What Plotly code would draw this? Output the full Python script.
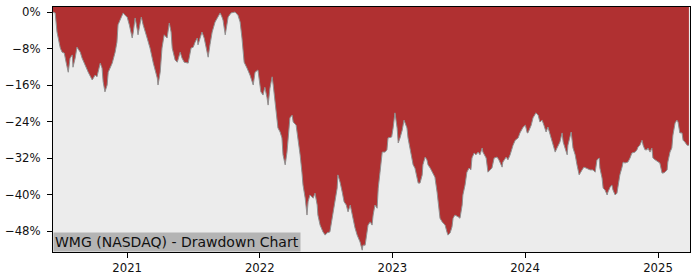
import plotly.graph_objects as go

dates = [
    "2020-06-11", "2020-06-17", "2020-06-22", "2020-07-01", "2020-07-06", "2020-07-12", "2020-07-17", "2020-07-23",
    "2020-07-28", "2020-08-03", "2020-08-05", "2020-08-11", "2020-08-16", "2020-08-25", "2020-08-30", "2020-09-07",
    "2020-09-16", "2020-09-27", "2020-10-05", "2020-10-10", "2020-10-19", "2020-10-24", "2020-10-27", "2020-11-01",
    "2020-11-07", "2020-11-10", "2020-11-21", "2020-11-29", "2020-12-04", "2020-12-07", "2020-12-15", "2020-12-21",
    "2020-12-26", "2021-01-01", "2021-01-07", "2021-01-15", "2021-01-18", "2021-01-23", "2021-01-29", "2021-01-31",
    "2021-02-09", "2021-02-14", "2021-02-25", "2021-03-05", "2021-03-14", "2021-03-25", "2021-03-27", "2021-04-02",
    "2021-04-07", "2021-04-13", "2021-04-21", "2021-04-27", "2021-05-02", "2021-05-05", "2021-05-13", "2021-05-19",
    "2021-05-27", "2021-06-01", "2021-06-07", "2021-06-18", "2021-06-26", "2021-07-02", "2021-07-07", "2021-07-13",
    "2021-07-15", "2021-07-21", "2021-07-26", "2021-08-01", "2021-08-09", "2021-08-12", "2021-08-17", "2021-08-23",
    "2021-08-31", "2021-09-08", "2021-09-14", "2021-09-19", "2021-09-22", "2021-09-28", "2021-10-03", "2021-10-06",
    "2021-10-14", "2021-10-25", "2021-11-02", "2021-11-08", "2021-11-13", "2021-11-19", "2021-11-27", "2021-12-05",
    "2021-12-14", "2021-12-19", "2021-12-27", "2022-01-04", "2022-01-10", "2022-01-15", "2022-01-21", "2022-01-24",
    "2022-01-29", "2022-02-04", "2022-02-07", "2022-02-12", "2022-02-18", "2022-02-20", "2022-02-26", "2022-03-03",
    "2022-03-06", "2022-03-12", "2022-03-17", "2022-03-20", "2022-03-25", "2022-03-31", "2022-04-03", "2022-04-11",
    "2022-04-16", "2022-04-22", "2022-04-27", "2022-04-30", "2022-05-06", "2022-05-11", "2022-05-14", "2022-05-19",
    "2022-05-28", "2022-06-02", "2022-06-08", "2022-06-10", "2022-06-16", "2022-06-24", "2022-06-30", "2022-07-05",
    "2022-07-13", "2022-07-19", "2022-07-24", "2022-08-02", "2022-08-04", "2022-08-10", "2022-08-16", "2022-08-21",
    "2022-08-27", "2022-09-01", "2022-09-07", "2022-09-12", "2022-09-20", "2022-09-26", "2022-10-04", "2022-10-10",
    "2022-10-12", "2022-10-18", "2022-10-23", "2022-10-26", "2022-11-01", "2022-11-06", "2022-11-09", "2022-11-14",
    "2022-11-20", "2022-11-23", "2022-11-28", "2022-12-04", "2022-12-12", "2022-12-17", "2022-12-20", "2022-12-30",
    "2023-01-03", "2023-01-08", "2023-01-14", "2023-01-17", "2023-01-22", "2023-01-28", "2023-02-02", "2023-02-10",
    "2023-02-13", "2023-02-19", "2023-02-24", "2023-02-27", "2023-03-04", "2023-03-10", "2023-03-13", "2023-03-18",
    "2023-03-24", "2023-03-26", "2023-04-01", "2023-04-06", "2023-04-09", "2023-04-15", "2023-04-20", "2023-04-23",
    "2023-04-28", "2023-05-04", "2023-05-07", "2023-05-12", "2023-05-18", "2023-05-26", "2023-05-31", "2023-06-03",
    "2023-06-09", "2023-06-14", "2023-06-17", "2023-06-22", "2023-07-01", "2023-07-06", "2023-07-12", "2023-07-14",
    "2023-07-20", "2023-07-25", "2023-07-31", "2023-08-05", "2023-08-08", "2023-08-14", "2023-08-19", "2023-08-25",
    "2023-08-30", "2023-09-05", "2023-09-07", "2023-09-16", "2023-09-21", "2023-09-27", "2023-10-02", "2023-10-08",
    "2023-10-16", "2023-10-21", "2023-10-30", "2023-11-01", "2023-11-10", "2023-11-15", "2023-11-21", "2023-11-29",
    "2023-12-05", "2023-12-13", "2023-12-18", "2023-12-27", "2024-01-02", "2024-01-07", "2024-01-09", "2024-01-18",
    "2024-01-23", "2024-01-31", "2024-02-06", "2024-02-11", "2024-02-17", "2024-02-22", "2024-02-28", "2024-03-04",
    "2024-03-10", "2024-03-18", "2024-03-24", "2024-03-29", "2024-04-06", "2024-04-12", "2024-04-15", "2024-04-20",
    "2024-04-26", "2024-04-28", "2024-05-07", "2024-05-12", "2024-05-18", "2024-05-23", "2024-05-29", "2024-06-06",
    "2024-06-11", "2024-06-17", "2024-06-28", "2024-07-06", "2024-07-12", "2024-07-17", "2024-07-23", "2024-07-25",
    "2024-07-31", "2024-08-03", "2024-08-08", "2024-08-14", "2024-08-16", "2024-08-22", "2024-08-27", "2024-08-30",
    "2024-09-05", "2024-09-10", "2024-09-13", "2024-09-18", "2024-09-24", "2024-09-27", "2024-10-02", "2024-10-10",
    "2024-10-16", "2024-10-21", "2024-10-30", "2024-11-04", "2024-11-07", "2024-11-12", "2024-11-18", "2024-11-21",
    "2024-11-26", "2024-12-02", "2024-12-04", "2024-12-10", "2024-12-15", "2024-12-18", "2024-12-24", "2025-01-02",
    "2025-01-06", "2025-01-12", "2025-01-15", "2025-01-20", "2025-01-26", "2025-01-28", "2025-02-03", "2025-02-08",
    "2025-02-11", "2025-02-17", "2025-02-22", "2025-02-25", "2025-03-02", "2025-03-08", "2025-03-11", "2025-03-16",
    "2025-03-22", "2025-03-27",
]

drawdown_pct = [
    0.0, -0.2, -4.4, -7.9, -8.8, -9.0, -11.0, -13.2,
    -10.1, -9.4, -12.1, -10.1, -7.7, -8.8, -10.1, -11.6,
    -13.2, -14.9, -13.8, -14.2, -11.2, -12.3, -15.3, -17.5,
    -16.0, -13.2, -11.2, -8.8, -6.6, -2.8, -1.1, -0.2,
    -0.7, -1.1, -2.8, -5.7, -4.4, -1.3, -3.9, -5.0,
    -1.1, -2.8, -5.7, -7.9, -11.2, -14.5, -16.0, -13.2,
    -7.9, -5.0, -5.7, -2.4, -4.4, -7.9, -10.5, -11.0,
    -8.8, -10.1, -11.0, -11.2, -7.9, -7.7, -6.6, -5.7,
    -7.2, -5.7, -4.4, -5.7, -8.8, -9.9, -7.2, -4.4,
    -2.2, -1.1, -0.2, -1.1, -1.8, -5.0, -2.8, -1.1,
    -0.2, 0.0, -0.7, -2.2, -5.7, -11.0, -12.3, -13.8,
    -16.0, -13.2, -12.7, -17.5, -18.2, -16.5, -18.8, -20.4,
    -16.7, -14.2, -16.0, -19.7, -23.2, -25.4, -26.3, -27.6,
    -31.3, -33.5, -30.7, -27.0, -23.2, -22.6, -24.1, -24.8,
    -27.6, -31.3, -35.1, -37.9, -40.8, -44.5, -41.6, -40.1,
    -40.8, -39.7, -42.3, -44.5, -46.7, -48.2, -48.9, -48.4,
    -48.2, -45.2, -42.3, -38.6, -35.7, -37.3, -39.5, -41.6,
    -42.3, -43.8, -42.3, -44.5, -47.3, -48.9, -50.4, -52.2,
    -51.1, -51.1, -48.9, -46.7, -46.0, -46.7, -44.5, -42.3,
    -43.0, -38.6, -35.1, -30.7, -30.7, -30.2, -27.6, -27.4,
    -25.4, -22.1, -25.4, -28.7, -27.6, -25.9, -23.7, -25.4,
    -27.6, -29.8, -32.0, -33.5, -34.2, -36.4, -37.5, -37.5,
    -35.7, -33.5, -31.8, -32.4, -33.5, -34.2, -35.1, -35.7,
    -36.2, -39.5, -42.3, -45.2, -46.0, -46.7, -48.2, -48.9,
    -48.4, -47.1, -45.2, -44.5, -44.9, -45.2, -42.3, -40.1,
    -37.9, -35.1, -34.2, -34.6, -32.0, -30.9, -31.3, -30.7,
    -31.3, -29.8, -30.7, -32.0, -35.1, -34.6, -34.2, -32.0,
    -31.8, -32.4, -34.0, -32.9, -31.8, -32.4, -31.3, -29.2,
    -28.1, -27.6, -26.5, -25.2, -24.8, -26.5, -26.5, -24.8,
    -23.2, -22.1, -22.6, -24.1, -23.7, -24.8, -26.3, -25.2,
    -27.0, -29.2, -30.7, -29.8, -28.5, -26.5, -28.5, -29.8,
    -31.3, -29.2, -26.3, -29.8, -31.3, -33.5, -35.7, -34.6,
    -34.0, -34.2, -34.6, -34.6, -35.1, -32.4, -32.0, -34.2,
    -36.4, -38.6, -39.0, -40.1, -39.5, -38.4, -37.9, -39.0,
    -40.1, -39.7, -37.9, -35.7, -34.0, -32.9, -33.1, -32.9,
    -32.0, -30.9, -30.7, -30.2, -29.6, -29.2, -28.1, -29.2,
    -30.2, -30.2, -29.8, -30.7, -29.8, -32.0, -32.4, -32.9,
    -33.1, -35.3, -35.3, -35.1, -34.6, -32.9, -30.7, -29.8,
    -27.0, -24.3, -23.7, -24.1, -26.5, -26.5, -28.1, -28.5,
    -29.2, -29.2,
]

y_tick_values = [0, -8, -16, -24, -32, -40, -48]
y_tick_labels = ["0%", "\u22128%", "\u221216%", "\u221224%", "\u221232%", "\u221240%", "\u221248%"]
x_tick_values = ["2021-01-01", "2022-01-01", "2023-01-01", "2024-01-01", "2025-01-01"]
x_tick_labels = ["2021", "2022", "2023", "2024", "2025"]
ceiling_pct = [5.0] * len(dates)

title_text = "WMG (NASDAQ) - Drawdown Chart"

fig = go.Figure()
fig.add_trace(go.Scatter(
    x=dates, y=ceiling_pct, mode="lines", line=dict(width=0, color="rgba(0,0,0,0)"),
    hoverinfo="skip", showlegend=False,
))
fig.add_trace(go.Scatter(
    x=dates, y=drawdown_pct, mode="lines", fill="tonexty",
    fillcolor="#b03031", line=dict(color="#909090", width=1),
    hoverinfo="skip", showlegend=False,
))

font_family = "DejaVu Sans"
fig.update_layout(
    width=700, height=280,
    margin=dict(l=53, r=10, t=7, b=28, autoexpand=False),
    paper_bgcolor="white",
    plot_bgcolor="#ececec",
    showlegend=False,
    font=dict(family=font_family, size=11.7, color="#111111"),
    xaxis=dict(
        type="date", automargin=False,
        range=["2020-06-11", "2025-03-30"],
        tickmode="array", tickvals=x_tick_values, ticktext=x_tick_labels,
        showgrid=False, zeroline=False,
        showline=True, linecolor="black", linewidth=1, mirror=True,
        ticks="outside", ticklen=5, tickcolor="black", tickwidth=1,
    ),
    yaxis=dict(
        automargin=False,
        range=[-52.6, 1.1],
        tickmode="array", tickvals=y_tick_values, ticktext=y_tick_labels,
        showgrid=False, zeroline=False,
        showline=True, linecolor="black", linewidth=1, mirror=True,
        ticks="outside", ticklen=5, tickcolor="black", tickwidth=1,
        ticklabelstandoff=4,
    ),
    annotations=[dict(
        text=title_text, xref="paper", yref="paper", x=0, y=0,
        xanchor="left", yanchor="bottom", showarrow=False,
        bgcolor="#b4b4b4", borderpad=1,
        font=dict(family=font_family, size=14, color="#111111"),
    )],
)

fig.write_html("out.html")
